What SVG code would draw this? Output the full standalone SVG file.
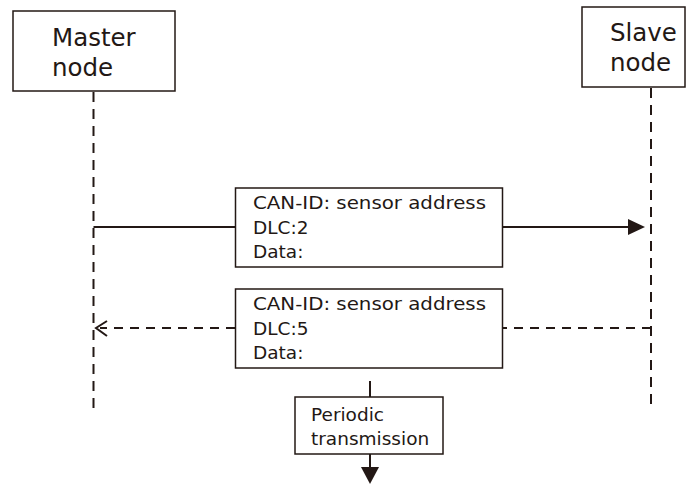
<svg xmlns="http://www.w3.org/2000/svg" width="689" height="484" viewBox="0 0 689 484">
<style>
.box{fill:#fff;stroke:#231815;stroke-width:1.5}
.t{font-family:"DejaVu Sans","Noto Sans",sans-serif;fill:#231815}
.big{font-size:24.5px}
.sm{font-size:18.5px}
.life{stroke:#231815;stroke-width:2;stroke-dasharray:10 7;fill:none}
.solid{stroke:#231815;stroke-width:2;fill:none}
.dash{stroke:#231815;stroke-width:2;stroke-dasharray:9 7;fill:none}
</style>
<rect width="689" height="484" fill="#fff"/>
<g id="connectors">
<line class="life" x1="93.5" y1="92" x2="93.5" y2="410"/>
<line class="life" x1="651" y1="88" x2="651" y2="406"/>
<line class="solid" x1="93.5" y1="227" x2="236" y2="227"/>
<line class="solid" x1="503" y1="227" x2="630" y2="227"/>
<polygon points="628,219 645,227 628,235" fill="#231815"/>
<line class="dash" x1="651" y1="328" x2="503" y2="328"/>
<line class="dash" x1="235" y1="328" x2="100" y2="328"/>
<polyline class="solid" points="107,321 96,328 107,336" stroke-width="2.5"/>
<line class="solid" x1="370" y1="381" x2="370" y2="397"/>
<line class="solid" x1="370" y1="454" x2="370" y2="468"/>
<polygon points="361,467 379,467 370,484" fill="#231815"/>
</g>
<g id="master">
<rect class="box" x="13" y="11" width="162" height="80"/>
<text class="t big" x="52" y="46">Master</text>
<text class="t big" x="52" y="76">node</text>
</g>
<g id="slave">
<rect class="box" x="582" y="7" width="103" height="80"/>
<text class="t big" x="610" y="41">Slave</text>
<text class="t big" x="610" y="71">node</text>
</g>
<g id="msg1">
<rect class="box" x="235.5" y="188" width="267" height="79"/>
<text class="t sm" x="253" y="209" textLength="233" lengthAdjust="spacingAndGlyphs">CAN-ID: sensor address</text>
<text class="t sm" x="253" y="234">DLC:2</text>
<text class="t sm" x="253" y="258">Data:</text>
</g>
<g id="msg2">
<rect class="box" x="235.5" y="289" width="267" height="79"/>
<text class="t sm" x="253" y="310" textLength="233" lengthAdjust="spacingAndGlyphs">CAN-ID: sensor address</text>
<text class="t sm" x="253" y="335">DLC:5</text>
<text class="t sm" x="253" y="359">Data:</text>
</g>
<g id="periodic">
<rect class="box" x="295" y="397" width="148" height="57"/>
<text class="t sm" x="311" y="421">Periodic</text>
<text class="t sm" x="311" y="445">transmission</text>
</g>
</svg>
